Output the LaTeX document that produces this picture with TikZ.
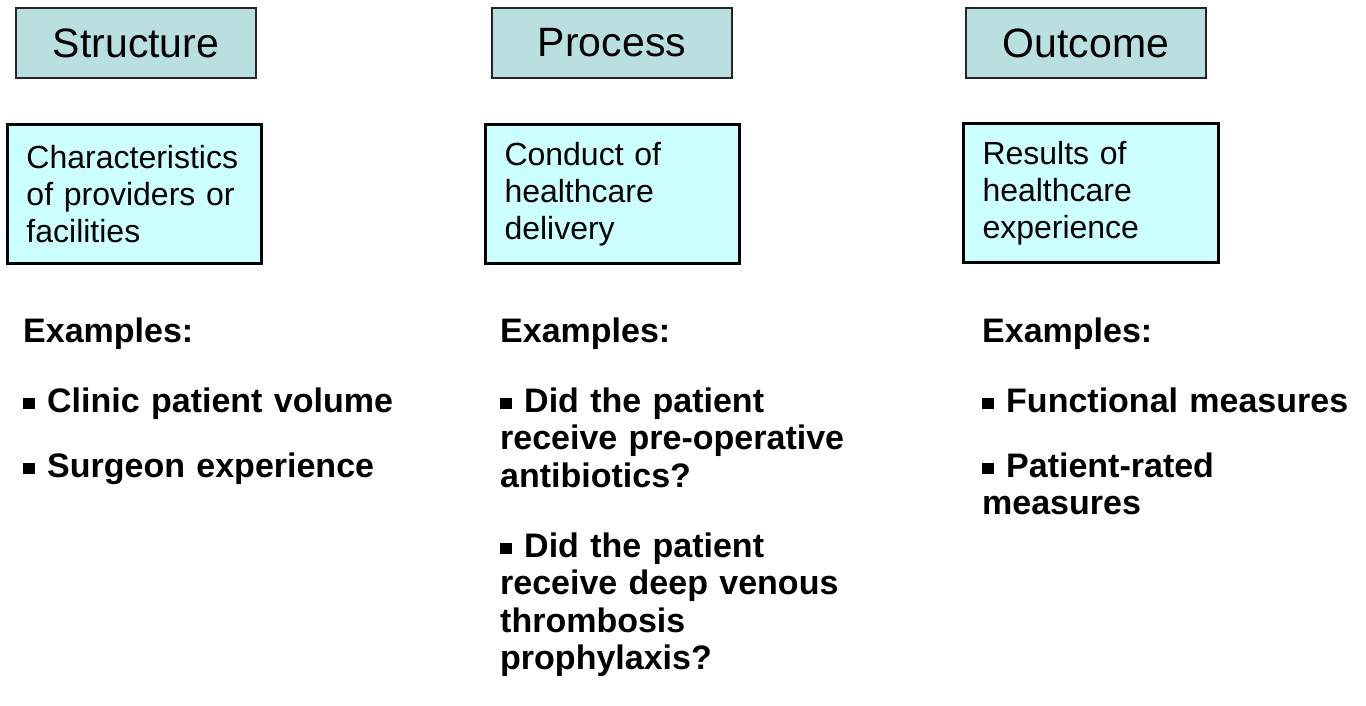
\documentclass[tikz,border=0pt]{standalone}
\usepackage{fontspec}
\setmainfont{Liberation Sans}
\definecolor{titlefill}{HTML}{BADFE0}
\definecolor{descfill}{HTML}{CCFFFF}
\newcommand{\sqb}{\rule[3.5pt]{12pt}{11pt}\hspace{12pt}}
\begin{document}
\begin{tikzpicture}[x=1pt,y=-1pt,
  titlebox/.style={draw=black!85, line width=2pt, fill=titlefill, minimum width=240pt, minimum height=70pt, inner sep=0pt, font=\fontsize{41}{46}\selectfont},
  descbox/.style={draw=black, line width=3pt, fill=descfill, anchor=north west, minimum width=254pt, minimum height=139pt, text width=216pt, inner xsep=19pt, inner ysep=0pt, align=left, font=\fontsize{32}{37}\selectfont},
  extext/.style={anchor=base west, inner sep=0pt, text width=400pt, align=left, font=\fontsize{34}{37.5}\selectfont\bfseries}]
\useasboundingbox (0,0) rectangle (1366,706);
% titles
\node[titlebox] (structure) at (136,43) {Structure};
\node[titlebox] (process) at (612,43) {Process};
\node[titlebox] (outcome) at (1086,43) {Outcome};
% descriptions
\node[descbox] (sdesc) at (6,123) {Characteristics\\of providers or\\facilities};
\node[descbox] (pdesc) at (484,123) {Conduct of\\healthcare\\delivery};
\node[descbox, minimum width=255pt, text width=217pt] (odesc) at (962,122) {Results of\\healthcare\\experience};
% examples
\node[extext] (sex) at (23,342) {Examples:\\[32.5pt]\sqb Clinic patient volume\\[27.5pt]\sqb Surgeon experience};
\node[extext] (pex) at (500,342) {Examples:\\[32.5pt]\sqb Did the patient\\receive pre-operative\\antibiotics?\\[32.5pt]\sqb Did the patient\\receive deep venous\\thrombosis\\prophylaxis?};
\node[extext] (oex) at (982,342) {Examples:\\[32.5pt]\sqb Functional measures\\[27.5pt]\sqb Patient-rated\\measures};
\end{tikzpicture}
\end{document}
